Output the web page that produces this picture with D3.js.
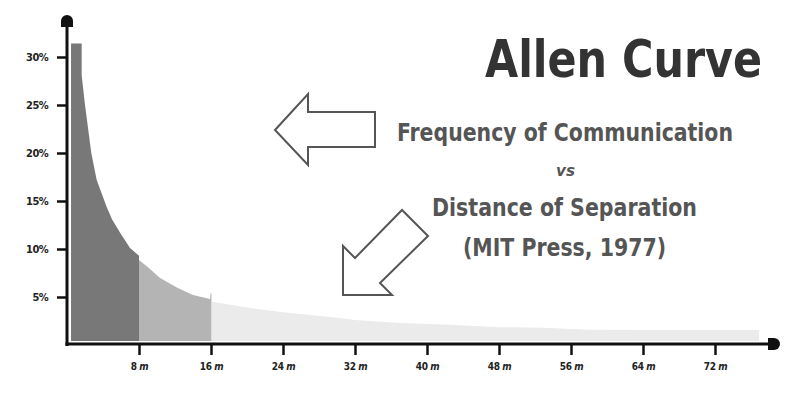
<!DOCTYPE html>
<html><head><meta charset="utf-8">
<script src="https://cdn.jsdelivr.net/npm/d3@7"></script>
<style>body{margin:0;background:#fff}svg{display:block}</style>
</head><body><svg id="c" width="800" height="400"></svg>
<script>
// ---- data ----
const distDark = [0.45, 1.63, 1.63, 2.0, 2.7, 3.3, 4.4, 5.0, 5.9, 7.0, 8.0];
const valDark  = [31.4, 31.4, 28.1, 25.0, 20.0, 17.2, 14.4, 13.1, 11.7, 10.1, 9.3];
const distMid  = [8.0, 9.0, 10.3, 12.2, 14.0, 15.9, 15.95, 16.05];
const valMid   = [8.85, 8.1, 7.0, 6.0, 5.2, 4.8, 5.4, 5.4];
const distLight = [16.1, 20, 24, 29.5, 32, 37, 42.5, 48, 53, 58, 76.9];
const valLight  = [4.5, 3.9, 3.4, 2.9, 2.6, 2.3, 2.1, 1.85, 1.8, 1.6, 1.56];
const yTicks = [5, 10, 15, 20, 25, 30];
const xTicks = [8, 16, 24, 32, 40, 48, 56, 64, 72];
const titleText = "Allen Curve";
const subLines = ["Frequency of Communication", "vs", "Distance of Separation", "(MIT Press, 1977)"];

const svg = d3.select("#c");
const x = d3.scaleLinear().domain([0, 72]).range([67, 715]);
const y = d3.scaleLinear().domain([0, 30]).range([345, 57]);
const base = y(0) - 4;

function series(ds, vs){ return ds.map((d,i)=>({d, v: vs[i]})); }
const area = d3.area().x(p=>x(p.d)).y0(base).y1(p=>y(p.v));

svg.append("path").datum(series(distLight, valLight)).attr("d", area).attr("fill", "#ebebeb");
svg.append("path").datum(series(distMid, valMid)).attr("d", area).attr("fill", "#b4b4b4");
svg.append("path").datum(series(distDark, valDark)).attr("d", area).attr("fill", "#787878");

// axes
const axisY = d3.axisLeft(y).tickValues(yTicks).tickSize(10).tickSizeOuter(0).tickPadding(9).tickFormat(d=>d+"%");
const gy = svg.append("g").attr("transform", `translate(${x(0)},0)`).call(axisY);
gy.select(".domain").remove();
gy.selectAll(".tick line").attr("stroke", "#111").attr("stroke-width", 2.5);
gy.selectAll(".tick text").attr("fill", "#222").attr("font-family", "DejaVu Sans Condensed, DejaVu Sans")
  .attr("font-weight", "bold").attr("font-size", 11).attr("letter-spacing", "-0.6");

const axisX = d3.axisBottom(x).tickValues(xTicks).tickSize(11).tickSizeOuter(0).tickPadding(6).tickFormat(()=>"");
const gx = svg.append("g").attr("transform", `translate(0,${y(0)-1})`).call(axisX);
gx.select(".domain").remove();
gx.selectAll(".tick line").attr("stroke", "#111").attr("stroke-width", 2.5);
gx.selectAll(".tick text").each(function(d){
  const t = d3.select(this).attr("font-family", "DejaVu Sans Condensed, DejaVu Sans").attr("font-size", 10)
    .attr("fill", "#222").attr("font-weight", "bold").attr("dy", "0.85em").attr("letter-spacing", "-0.4");
  t.append("tspan").text(d + " ");
  t.append("tspan").attr("font-style", "italic").text("m");
});

// axis lines with arrowheads
svg.append("line").attr("x1", x(0)).attr("x2", x(0)).attr("y1", y(0)+1).attr("y2", 22)
  .attr("stroke", "#111").attr("stroke-width", 3);
svg.append("line").attr("x1", x(0)-1.5).attr("x2", 772).attr("y1", y(0)-1).attr("y2", y(0)-1)
  .attr("stroke", "#111").attr("stroke-width", 3);
svg.append("path").attr("d", `M${x(0)-6},27 L${x(0)-6},21 A6,6 0 0 1 ${x(0)+6},21 L${x(0)+6},27 Z`).attr("fill", "#111");
svg.append("path").attr("d", `M768,${y(0)-7} L774,${y(0)-7} A6,6 0 0 1 774,${y(0)+5} L768,${y(0)+5} Z`).attr("fill", "#111");

// arrows
svg.append("path").attr("d", "M275,130 L308,94 L308,112 L375,112 L375,147 L308,147 L308,165 Z")
  .attr("fill", "#fff").attr("stroke", "#555").attr("stroke-width", 2);
svg.append("path").attr("d", "M343,295 L343,246 L355,258 L402,210 L428,236 L380,283 L392,295 Z")
  .attr("fill", "#fff").attr("stroke", "#555").attr("stroke-width", 2);

// title & subtitle
svg.append("text").attr("x", 485).attr("y", 77).attr("font-family", "DejaVu Sans Condensed, DejaVu Sans")
  .attr("font-weight", "bold").attr("font-size", 52).attr("fill", "#333")
  .attr("textLength", 277).attr("lengthAdjust", "spacingAndGlyphs").text(titleText);

const subPos = [{x:397, y:141, w:336, s:24}, {x:556, y:176, w:19, s:16}, {x:432, y:216, w:265, s:24}, {x:463, y:256, w:203, s:24}];
subLines.forEach((t,i)=>{
  const p = subPos[i];
  svg.append("text").attr("x", p.x).attr("y", p.y).attr("font-family", "DejaVu Sans Condensed, DejaVu Sans")
    .attr("font-weight", "bold").attr("font-style", i===1 ? "italic" : "normal")
    .attr("font-size", p.s).attr("fill", "#555")
    .attr("textLength", p.w).attr("lengthAdjust", "spacingAndGlyphs").text(t);
});
</script></body></html>
